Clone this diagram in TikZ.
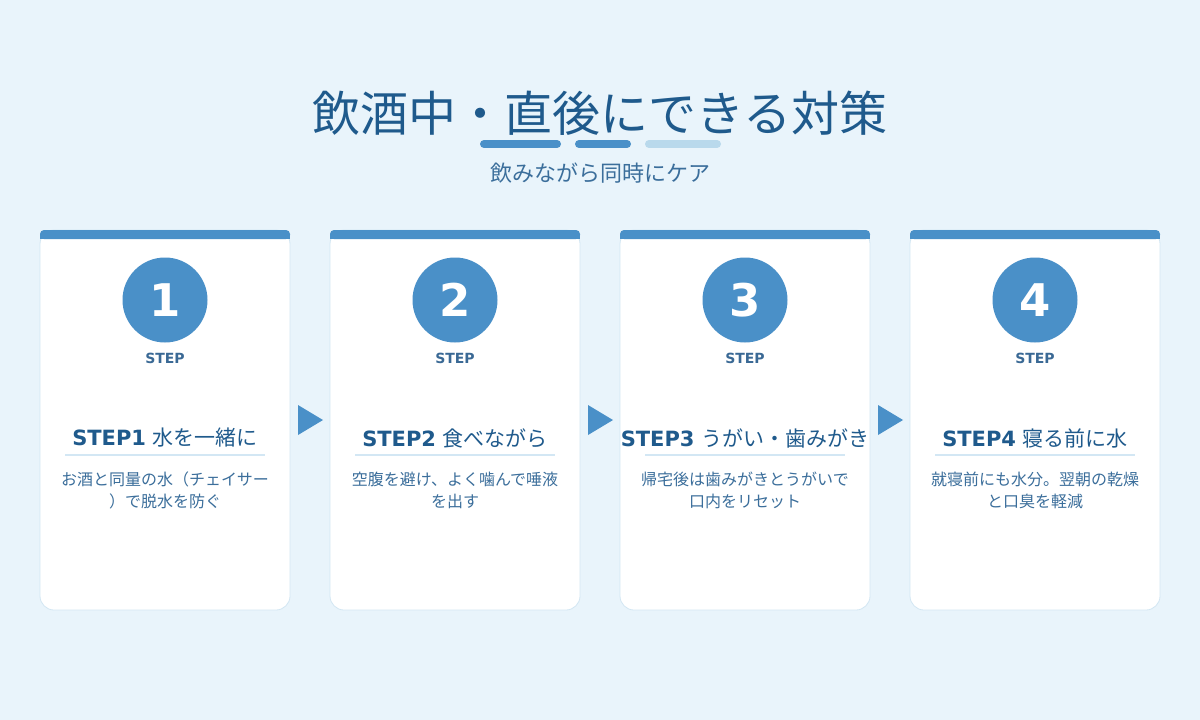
\documentclass[tikz,border=0pt]{standalone}
\usepackage{fontspec}
\setmainfont{DejaVu Sans}
\newfontfamily\jp{Noto Sans CJK JP}
\definecolor{bg}{HTML}{E9F4FB}
\definecolor{accent}{HTML}{4A90C8}
\definecolor{accentlight}{HTML}{B9D9EC}
\definecolor{titlecol}{HTML}{1F5A8C}
\definecolor{desccol}{HTML}{3B6E9B}
\definecolor{steplbl}{HTML}{3A6995}
\definecolor{cardborder}{HTML}{D2E6F3}
\definecolor{uline}{HTML}{D3E7F4}
\tikzset{
  card/.style={draw=cardborder, fill=white, rounded corners=14pt, minimum width=250pt, minimum height=380pt, inner sep=0pt, line width=0.8pt},
  numcircle/.style={circle, fill=accent, minimum size=85pt, inner sep=0pt, text=white, font=\bfseries\fontsize{45}{45}\selectfont},
  steplabel/.style={text=steplbl, font=\bfseries\fontsize{14}{14}\selectfont},
  cardtitle/.style={text=titlecol, font=\fontsize{21}{21}\selectfont, inner sep=0pt},
  carddesc/.style={text=desccol, font=\jp\fontsize{16}{22}\selectfont, align=center, inner sep=0pt},
  arrowtri/.style={fill=accent},
}
\begin{document}
\begin{tikzpicture}[x=1pt,y=-1pt]
\useasboundingbox (0,0) rectangle (1200,720);
\fill[bg] (0,0) rectangle (1200,720);
% title
\node[text=titlecol, font=\jp\fontsize{48}{48}\selectfont, inner sep=0pt] (title) at (600,113) {飲酒中・直後にできる対策};
\draw[accent, line width=8pt, line cap=round] (484,144) -- (557,144);
\draw[accent, line width=8pt, line cap=round] (579,144) -- (627,144);
\draw[accentlight, line width=8pt, line cap=round] (649,144) -- (717,144);
\node[text=desccol, font=\jp\fontsize{22}{22}\selectfont, inner sep=0pt] (subtitle) at (600,173) {飲みながら同時にケア};
% cards
\foreach \i/\x/\t/\da/\db in {
  1/165/水を一緒に/お酒と同量の水（チェイサー/）で脱水を防ぐ,
  2/455/食べながら/空腹を避け、よく噛んで唾液/を出す,
  3/745/うがい・歯みがき/帰宅後は歯みがきとうがいで/口内をリセット,
  4/1035/寝る前に水/就寝前にも水分。翌朝の乾燥/と口臭を軽減}{
  \node[card] (card\i) at (\x,420) {};
  \fill[accent, rounded corners=4pt] (\x-125,230) rectangle (\x+125,239);
  \fill[accent] (\x-125,235) rectangle (\x+125,239);
  \node[numcircle] (num\i) at (\x,300) {\i};
  \node[steplabel] (lbl\i) at (\x,358) {STEP};
  \node[cardtitle] (ttl\i) at (\x,438) {{\bfseries STEP\i} {\jp \t}};
  \draw[uline, line width=2pt] (\x-100,455) -- (\x+100,455);
  \node[carddesc] (desc\i) at (\x,490) {\da\\\db};
}
% arrows between cards
\foreach \x in {298,588,878}{
  \fill[arrowtri] (\x,405) -- (\x+25,420) -- (\x,435) -- cycle;
}
\end{tikzpicture}
\end{document}
